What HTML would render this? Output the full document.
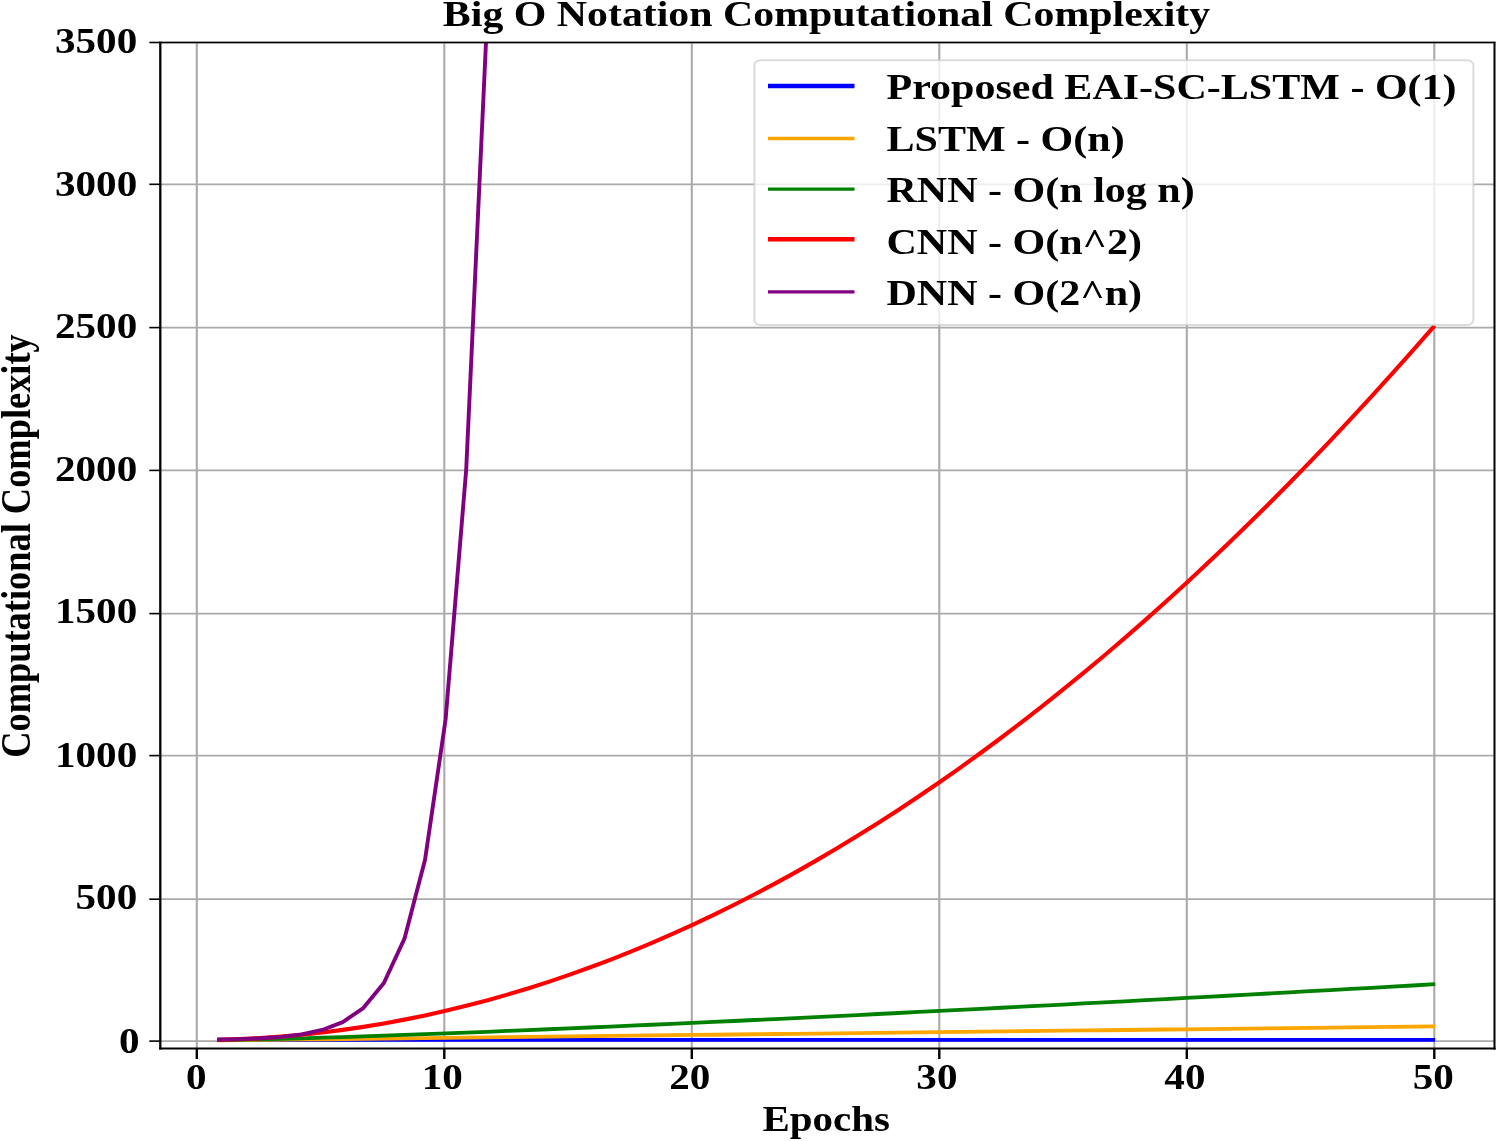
<!DOCTYPE html>
<html lang="en"><head><meta charset="utf-8"><title>Big O Notation Computational Complexity</title>
<style>
html,body{margin:0;padding:0;background:#fff;}
body{width:1500px;height:1141px;overflow:hidden;}
svg{display:block;}
text{font-family:"Liberation Serif","Times New Roman",serif;font-weight:bold;font-size:36.4px;fill:#000;}
</style></head><body>
<svg width="1500" height="1141" viewBox="0 0 1500 1141">
<rect x="0" y="0" width="1500" height="1141" fill="#fff"/>

<g stroke="#aaaaaa" stroke-width="2.1" fill="none">
<line x1="196.80" y1="42.5" x2="196.80" y2="1048.5"/>
<line x1="444.30" y1="42.5" x2="444.30" y2="1048.5"/>
<line x1="691.80" y1="42.5" x2="691.80" y2="1048.5"/>
<line x1="939.30" y1="42.5" x2="939.30" y2="1048.5"/>
<line x1="1186.80" y1="42.5" x2="1186.80" y2="1048.5"/>
<line x1="1434.30" y1="42.5" x2="1434.30" y2="1048.5"/>
</g>
<g stroke="#aaaaaa" stroke-width="1.8" fill="none">
<line x1="160.3" y1="1041.10" x2="1494.5" y2="1041.10"/>
<line x1="160.3" y1="899.20" x2="1494.5" y2="899.20"/>
<line x1="160.3" y1="755.60" x2="1494.5" y2="755.60"/>
<line x1="160.3" y1="613.60" x2="1494.5" y2="613.60"/>
<line x1="160.3" y1="470.40" x2="1494.5" y2="470.40"/>
<line x1="160.3" y1="327.60" x2="1494.5" y2="327.60"/>
<line x1="160.3" y1="184.30" x2="1494.5" y2="184.30"/>
<line x1="160.3" y1="42.50" x2="1494.5" y2="42.50"/>
</g>
<clipPath id="ax"><rect x="160.3" y="42.5" width="1334.2" height="1006.0"/></clipPath>
<g clip-path="url(#ax)" fill="none" stroke-linejoin="round" stroke-linecap="square">
<polyline stroke="blue" stroke-width="3.7" points="219.28,1039.81 239.85,1039.81 260.43,1039.81 281.01,1039.81 301.58,1039.81 322.16,1039.81 342.74,1039.81 363.31,1039.81 383.89,1039.81 404.47,1039.81 425.04,1039.81 445.62,1039.81 466.20,1039.81 486.77,1039.81 507.35,1039.81 527.93,1039.81 548.50,1039.81 569.08,1039.81 589.66,1039.81 610.23,1039.81 630.81,1039.81 651.39,1039.81 671.96,1039.81 692.54,1039.81 713.12,1039.81 733.69,1039.81 754.27,1039.81 774.85,1039.81 795.42,1039.81 816.00,1039.81 836.58,1039.81 857.15,1039.81 877.73,1039.81 898.31,1039.81 918.88,1039.81 939.46,1039.81 960.04,1039.81 980.61,1039.81 1001.19,1039.81 1021.77,1039.81 1042.34,1039.81 1062.92,1039.81 1083.50,1039.81 1104.07,1039.81 1124.65,1039.81 1145.23,1039.81 1165.80,1039.81 1186.38,1039.81 1206.96,1039.81 1227.53,1039.81 1248.11,1039.81 1268.69,1039.81 1289.26,1039.81 1309.84,1039.81 1330.42,1039.81 1350.99,1039.81 1371.57,1039.81 1392.15,1039.81 1412.72,1039.81 1433.30,1039.81"/>
<polyline stroke="orange" stroke-width="3.8" points="219.28,1040.41 239.85,1040.18 260.43,1039.94 281.01,1039.70 301.58,1039.47 322.16,1039.23 342.74,1038.99 363.31,1038.76 383.89,1038.52 404.47,1038.28 425.04,1038.05 445.62,1037.81 466.20,1037.57 486.77,1037.34 507.35,1037.10 527.93,1036.86 548.50,1036.63 569.08,1036.39 589.66,1036.15 610.23,1035.91 630.81,1035.68 651.39,1035.44 671.96,1035.20 692.54,1034.97 713.12,1034.73 733.69,1034.49 754.27,1034.26 774.85,1034.02 795.42,1033.78 816.00,1033.55 836.58,1033.31 857.15,1033.07 877.73,1032.84 898.31,1032.60 918.88,1032.36 939.46,1032.12 960.04,1031.89 980.61,1031.65 1001.19,1031.41 1021.77,1031.18 1042.34,1030.94 1062.92,1030.70 1083.50,1030.47 1104.07,1030.23 1124.65,1029.99 1145.23,1029.76 1165.80,1029.52 1186.38,1029.28 1206.96,1029.05 1227.53,1028.81 1248.11,1028.57 1268.69,1028.33 1289.26,1028.10 1309.84,1027.86 1330.42,1027.62 1350.99,1027.39 1371.57,1027.15 1392.15,1026.91 1412.72,1026.68 1433.30,1026.44"/>
<polyline stroke="green" stroke-width="3.8" points="219.28,1040.10 239.85,1039.78 260.43,1039.36 281.01,1038.85 301.58,1038.30 322.16,1037.69 342.74,1037.05 363.31,1036.37 383.89,1035.67 404.47,1034.93 425.04,1034.18 445.62,1033.41 466.20,1032.61 486.77,1031.80 507.35,1030.97 527.93,1030.12 548.50,1029.26 569.08,1028.39 589.66,1027.50 610.23,1026.60 630.81,1025.69 651.39,1024.77 671.96,1023.84 692.54,1022.90 713.12,1021.94 733.69,1020.98 754.27,1020.01 774.85,1019.03 795.42,1018.04 816.00,1017.05 836.58,1016.04 857.15,1015.03 877.73,1014.01 898.31,1012.99 918.88,1011.95 939.46,1010.91 960.04,1009.87 980.61,1008.82 1001.19,1007.76 1021.77,1006.69 1042.34,1005.62 1062.92,1004.54 1083.50,1003.46 1104.07,1002.37 1124.65,1001.28 1145.23,1000.18 1165.80,999.08 1186.38,997.97 1206.96,996.86 1227.53,995.74 1248.11,994.62 1268.69,993.49 1289.26,992.36 1309.84,991.22 1330.42,990.08 1350.99,988.94 1371.57,987.79 1392.15,986.63 1412.72,985.48 1433.30,984.31"/>
<polyline stroke="red" stroke-width="4.1" points="219.28,1039.81 239.85,1039.14 260.43,1038.08 281.01,1036.62 301.58,1034.77 322.16,1032.53 342.74,1029.89 363.31,1026.86 383.89,1023.44 404.47,1019.62 425.04,1015.41 445.62,1010.80 466.20,1005.80 486.77,1000.41 507.35,994.63 527.93,988.45 548.50,981.88 569.08,974.91 589.66,967.55 610.23,959.80 630.81,951.65 651.39,943.12 671.96,934.18 692.54,924.86 713.12,915.14 733.69,905.02 754.27,894.52 774.85,883.62 795.42,872.33 816.00,860.64 836.58,848.56 857.15,836.09 877.73,823.22 898.31,809.96 918.88,796.31 939.46,782.26 960.04,767.82 980.61,752.98 1001.19,737.76 1021.77,722.14 1042.34,706.12 1062.92,689.71 1083.50,672.91 1104.07,655.72 1124.65,638.13 1145.23,620.15 1165.80,601.77 1186.38,583.01 1206.96,563.84 1227.53,544.29 1248.11,524.34 1268.69,504.00 1289.26,483.26 1309.84,462.13 1330.42,440.61 1350.99,418.70 1371.57,396.39 1392.15,373.69 1412.72,350.59 1433.30,327.10"/>
<polyline stroke="purple" stroke-width="3.9" points="219.28,1039.53 239.85,1039.09 260.43,1038.30 281.01,1036.89 301.58,1034.40 322.16,1029.96 342.74,1022.06 363.31,1008.02 383.89,983.05 404.47,938.65 425.04,859.69 445.62,719.28 466.20,469.57 486.77,25.53 507.35,-764.13 527.93,-2168.38 548.50,-3000.00"/>
</g>
<g stroke="#000" fill="none">
<line x1="160.3" y1="41.8" x2="160.3" y2="1049.4" stroke-width="2.3"/>
<line x1="1494.5" y1="41.8" x2="1494.5" y2="1049.4" stroke-width="2.0"/>
<line x1="159.10000000000002" y1="42.5" x2="1495.5" y2="42.5" stroke-width="1.4"/>
<line x1="159.10000000000002" y1="1048.5" x2="1495.7" y2="1048.5" stroke-width="1.8"/>
<line x1="196.80" y1="1048.5" x2="196.80" y2="1059.0" stroke-width="2.4"/>
<line x1="444.30" y1="1048.5" x2="444.30" y2="1059.0" stroke-width="2.4"/>
<line x1="691.80" y1="1048.5" x2="691.80" y2="1059.0" stroke-width="2.4"/>
<line x1="939.30" y1="1048.5" x2="939.30" y2="1059.0" stroke-width="2.4"/>
<line x1="1186.80" y1="1048.5" x2="1186.80" y2="1059.0" stroke-width="2.4"/>
<line x1="1434.30" y1="1048.5" x2="1434.30" y2="1059.0" stroke-width="2.4"/>
<line x1="149.3" y1="1041.10" x2="160.3" y2="1041.10" stroke-width="1.6"/>
<line x1="149.3" y1="899.20" x2="160.3" y2="899.20" stroke-width="1.6"/>
<line x1="149.3" y1="755.60" x2="160.3" y2="755.60" stroke-width="1.6"/>
<line x1="149.3" y1="613.60" x2="160.3" y2="613.60" stroke-width="1.6"/>
<line x1="149.3" y1="470.40" x2="160.3" y2="470.40" stroke-width="1.6"/>
<line x1="149.3" y1="327.60" x2="160.3" y2="327.60" stroke-width="1.6"/>
<line x1="149.3" y1="184.30" x2="160.3" y2="184.30" stroke-width="1.6"/>
<line x1="149.3" y1="42.50" x2="160.3" y2="42.50" stroke-width="1.6"/>
</g>
<text transform="translate(196.20,1089.10) scale(1.13,1)" text-anchor="middle">0</text>
<text transform="translate(442.30,1089.10) scale(1.13,1)" text-anchor="middle">10</text>
<text transform="translate(689.80,1089.10) scale(1.13,1)" text-anchor="middle">20</text>
<text transform="translate(936.90,1089.10) scale(1.13,1)" text-anchor="middle">30</text>
<text transform="translate(1184.90,1089.10) scale(1.13,1)" text-anchor="middle">40</text>
<text transform="translate(1433.30,1089.10) scale(1.13,1)" text-anchor="middle">50</text>
<text transform="translate(139.50,1053.10) scale(1.13,1)" text-anchor="end">0</text>
<text transform="translate(137.20,908.50) scale(1.13,1)" text-anchor="end">500</text>
<text transform="translate(137.20,767.10) scale(1.13,1)" text-anchor="end">1000</text>
<text transform="translate(137.20,623.30) scale(1.13,1)" text-anchor="end">1500</text>
<text transform="translate(137.20,481.10) scale(1.13,1)" text-anchor="end">2000</text>
<text transform="translate(137.20,338.40) scale(1.13,1)" text-anchor="end">2500</text>
<text transform="translate(137.20,195.70) scale(1.13,1)" text-anchor="end">3000</text>
<text transform="translate(137.20,52.60) scale(1.13,1)" text-anchor="end">3500</text>
<text transform="translate(826.50,26.20) scale(1.15,1)" text-anchor="middle">Big O Notation Computational Complexity</text>
<text transform="translate(826.20,1131.00) scale(1.125,1)" text-anchor="middle">Epochs</text>
<text transform="translate(30.20,546.00) rotate(-90) scale(1.0,1.15)" text-anchor="middle">Computational Complexity</text>
<rect x="754.4" y="60.3" width="719.0000000000001" height="264.7" rx="6" ry="5" fill="#fff" fill-opacity="0.8" stroke="#ccc" stroke-opacity="0.7" stroke-width="2"/>
<line x1="768" y1="86.00" x2="854.5" y2="86.00" stroke="blue" stroke-width="4.4"/>
<text transform="translate(886.50,99.30) scale(1.155,0.975)" text-anchor="start">Proposed EAI-SC-LSTM - O(1)</text>
<line x1="768" y1="138.50" x2="854.5" y2="138.50" stroke="orange" stroke-width="3.3"/>
<text transform="translate(886.50,150.80) scale(1.155,0.975)" text-anchor="start">LSTM - O(n)</text>
<line x1="768" y1="189.20" x2="854.5" y2="189.20" stroke="green" stroke-width="3.3"/>
<text transform="translate(886.50,202.30) scale(1.155,0.975)" text-anchor="start">RNN - O(n log n)</text>
<line x1="768" y1="239.30" x2="854.5" y2="239.30" stroke="red" stroke-width="4.4"/>
<text transform="translate(886.50,253.80) scale(1.155,0.975)" text-anchor="start">CNN - O(n^2)</text>
<line x1="768" y1="291.80" x2="854.5" y2="291.80" stroke="purple" stroke-width="3.3"/>
<text transform="translate(886.50,305.30) scale(1.155,0.975)" text-anchor="start">DNN - O(2^n)</text>
</svg>
</body></html>
